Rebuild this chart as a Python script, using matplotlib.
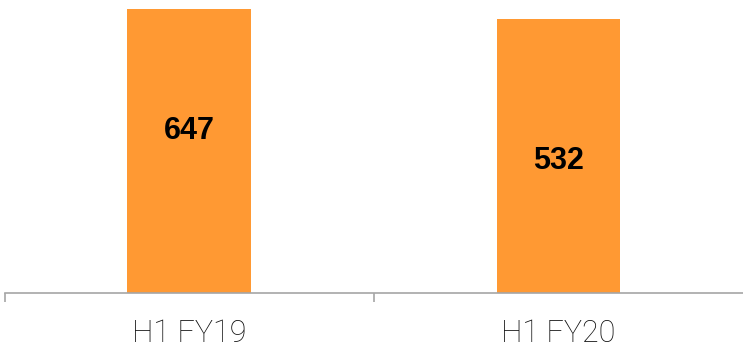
import matplotlib.pyplot as plt

# half-year figures
periods = ['H1 FY19', 'H1 FY20']
values = [647, 532]
label_y = [0.5256, 0.4232]   # baseline of the value labels, in axes fraction

bar_color = '#FF9933'
axis_color = '#A6A6A6'

fig = plt.figure(figsize=(7.43, 3.47), dpi=100)
ax = fig.add_axes([4.5 / 743, 54 / 347, 1 - 4.5 / 743, 293 / 347])

x = list(range(len(periods)))
ax.bar(x, values, width=0.335, color=bar_color, log=True)
ax.set_ylim(2.5, 771)
ax.set_xlim(-0.5, 1.5)

# value labels inside the bars
for xi, v, ly in zip(x, values, label_y):
    ax.text(xi, ly, str(v), transform=ax.get_xaxis_transform(),
            ha='center', va='baseline', fontsize=22, fontweight='bold',
            family=['Liberation Sans', 'DejaVu Sans'], color='black')

# category labels and separator ticks
ax.set_xticks(x)
ax.set_xticklabels(periods, fontsize=22, fontweight='light',
                   family=['Roboto', 'DejaVu Sans'], color='#111111')
ax.tick_params(axis='x', which='major', length=0, pad=19)
ax.set_xticks([-0.5, 0.5], minor=True)
ax.tick_params(axis='x', which='minor', length=6.5, width=1.2, color=axis_color)

ax.set_yticks([])
ax.yaxis.set_minor_locator(plt.NullLocator())
for side in ['left', 'right', 'top']:
    ax.spines[side].set_visible(False)
ax.spines['bottom'].set_color(axis_color)
ax.spines['bottom'].set_linewidth(1.2)

fig.savefig('out.png', dpi=100)
